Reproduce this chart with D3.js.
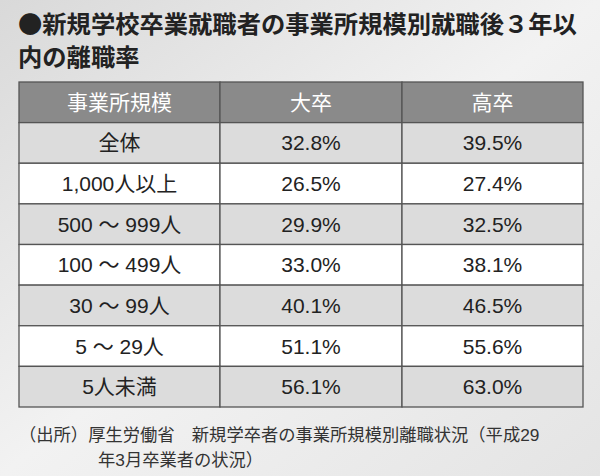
<!DOCTYPE html><html><head><meta charset="utf-8"><script src="https://cdn.jsdelivr.net/npm/d3@7"></script>
<style>body{margin:0;background:#fff}</style></head><body><svg id="c" width="600" height="476"></svg>
<script>
const titleLines=["●新規学校卒業就職者の事業所規模別就職後３年以","内の離職率"];
const headers=["事業所規模","大卒","高卒"];
const categories=["全体","1,000人以上","500 ～ 999人","100 ～ 499人","30 ～ 99人","5 ～ 29人","5人未満"];
const univ=[32.8,26.5,29.9,33.0,40.1,51.1,56.1];
const high=[39.5,27.4,32.5,38.1,46.5,55.6,63.0];
const sourceLines=["（出所）厚生労働省　新規学卒者の事業所規模別離職状況（平成29","年3月卒業者の状況）"];
const font="'Liberation Sans','Noto Sans CJK JP',sans-serif";
const svg=d3.select("#c");
const g=svg.append("defs").append("linearGradient").attr("id","bg").attr("x1",0).attr("y1",0).attr("x2",1).attr("y2",1);
g.append("stop").attr("offset",0).attr("stop-color","#d9d9d9");
g.append("stop").attr("offset",0.5).attr("stop-color","#f2f2f2");
g.append("stop").attr("offset",1).attr("stop-color","#e4e4e4");
svg.append("rect").attr("width",600).attr("height",476).attr("fill","url(#bg)");
svg.selectAll("text.t").data(titleLines).join("text").attr("x",18).attr("y",(d,i)=>33+i*33)
 .attr("font-family","'Noto Sans CJK JP',sans-serif").attr("font-weight","bold").attr("font-size",24.3).attr("fill","#222").text(d=>d);
const xEdges=[19,220,402,583];
const y=d3.scaleBand().domain(d3.range(-1,categories.length)).range([82,407]);
const rows=[{h:true,cells:headers}].concat(categories.map((c,i)=>({h:false,i,cells:[c,univ[i].toFixed(1)+"%",high[i].toFixed(1)+"%"]})));
rows.forEach((r,ri)=>{
 const yy=y(ri-1),bh=y.bandwidth();
 const fill=r.h?"#8a8a8a":(r.i%2===0?"#dcdcdc":"#ffffff");
 r.cells.forEach((t,ci)=>{
  svg.append("rect").attr("x",xEdges[ci]).attr("y",yy).attr("width",xEdges[ci+1]-xEdges[ci]).attr("height",bh)
   .attr("fill",fill).attr("stroke","#555").attr("stroke-width",1.3);
  svg.append("text").attr("x",(xEdges[ci]+xEdges[ci+1])/2).attr("y",yy+bh/2+7.5).attr("text-anchor","middle")
   .attr("font-family",font).attr("font-size",21).attr("fill",r.h?"#fff":"#222").text(t);
 });
});
svg.selectAll("text.s").data(sourceLines).join("text").attr("x",(d,i)=>i?98:19).attr("y",(d,i)=>441+i*25)
 .attr("font-family",font).attr("font-size",17.3).attr("fill","#333").text(d=>d);
</script></body></html>
